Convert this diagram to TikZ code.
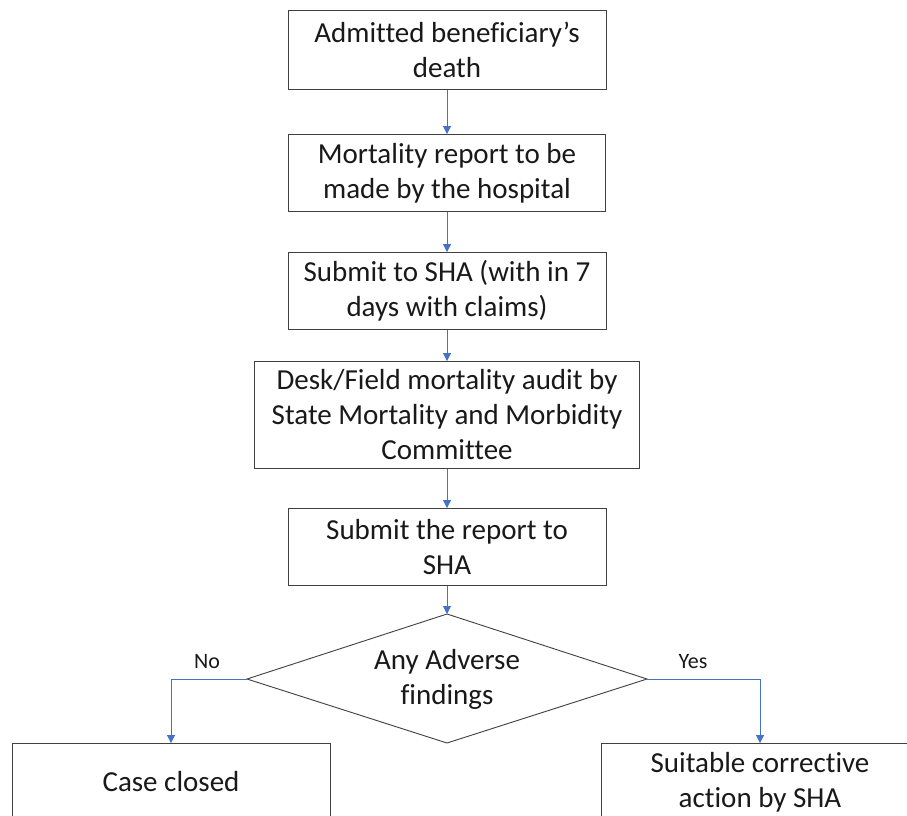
\documentclass[tikz,border=0pt]{standalone}
\usepackage{fontspec}
\setmainfont[RawFeature={-liga,-calt,-clig,-dlig}]{Carlito}
\usepackage{xcolor}
\usetikzlibrary{arrows.meta}
\definecolor{linkblue}{HTML}{4472C4}
\definecolor{boxgray}{HTML}{404040}

\begin{document}
\begin{tikzpicture}[x=1pt,y=-1pt,
    stepbox/.style={draw=boxgray,line width=0.9pt,align=center,inner sep=0pt,
      font=\fontsize{29}{35}\selectfont,text=black!90},
    choice/.style={align=center,inner sep=0pt,font=\fontsize{29}{35}\selectfont,text=black!90},
    link/.style={draw=linkblue,line width=0.9pt,-{Triangle[length=8pt,width=8pt]}},
    tag/.style={font=\fontsize{22}{24}\selectfont,text=black!90}]
      \useasboundingbox (0,0) rectangle (907,816);
      \clip (0,0) rectangle (907,816);
      \fill[white] (0,0) rectangle (907,816);
      % main column
      \node[stepbox,minimum width=318pt,minimum height=79pt] (death) at (447,50) {Admitted beneficiary's\\death};
      \node[stepbox,minimum width=317pt,minimum height=77pt] (report) at (447,173) {Mortality report to be\\made by the hospital};
      \node[stepbox,minimum width=318pt,minimum height=77pt] (submit) at (447,291) {Submit to SHA (with in 7\\days with claims)};
      \node[stepbox,minimum width=385pt,minimum height=107pt] (audit) at (447,415) {Desk/Field mortality audit by\\State Mortality and Morbidity\\Committee};
      \node[stepbox,minimum width=318pt,minimum height=77pt] (sha) at (447,547) {Submit the report to\\SHA};
      % decision
      \coordinate (adv-n) at (447,614);
      \coordinate (adv-e) at (647,679);
      \coordinate (adv-s) at (447,743);
      \coordinate (adv-w) at (247,679);
      \draw[boxgray,line width=0.9pt] (adv-n) -- (adv-e) -- (adv-s) -- (adv-w) -- cycle;
      \node[choice] (adverse) at (447,679) {Any Adverse\\findings};
      % outcomes
      \node[stepbox,minimum width=318pt,minimum height=77pt] (closed) at (171,782) {Case closed};
      \node[stepbox,minimum width=318pt,minimum height=77pt] (action) at (760,782) {Suitable corrective\\action by SHA};
      \draw[link] (death) -- (report);
      \draw[link] (report) -- (submit);
      \draw[link] (submit) -- (audit);
      \draw[link] (audit) -- (sha);
      \draw[link] (sha) -- (adv-n);
      \draw[link] (adv-w) -| (closed.north);
      \draw[link] (adv-e) -| (action.north);
      \node[tag] (no) at (207,662) {No};
      \node[tag] (yes) at (693,662) {Yes};
    \end{tikzpicture}
\end{document}
